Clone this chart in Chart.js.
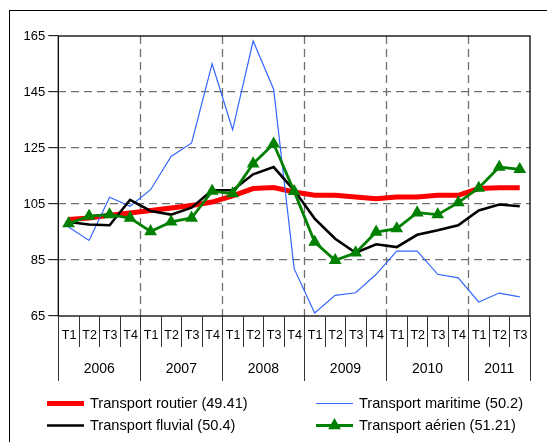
<!DOCTYPE html>
<html>
<head>
<meta charset="utf-8">
<script src="https://cdn.jsdelivr.net/npm/chart.js@4"></script>
<style>
body { margin: 0; background: #fff; }
canvas { display: block; }
</style>
</head>
<body>
<canvas id="transportChart" width="547" height="442"></canvas>
<script>
const quarters = ['T1', 'T2', 'T3', 'T4', 'T1', 'T2', 'T3', 'T4', 'T1', 'T2', 'T3', 'T4',
    'T1', 'T2', 'T3', 'T4', 'T1', 'T2', 'T3', 'T4', 'T1', 'T2', 'T3'];
const years = ['2006', '2007', '2008', '2009', '2010', '2011'];
const quartersPerYear = [4, 4, 4, 4, 4, 3];

const routier = [99.5, 100, 101, 101.8, 102.7, 103.6, 104.5, 105.7, 107.9, 110.5, 110.9, 109.3,
    108.1, 108.1, 107.5, 106.9, 107.5, 107.5, 108.1, 108.1, 110.5, 110.8, 110.8];
const maritime = [96.8, 92, 107.4, 104.2, 110.1, 122, 126.8, 155.1, 131.5, 163.2, 146, 81.9,
    66.1, 72.4, 73.3, 79.9, 88.2, 88.2, 79.9, 78.6, 70, 73.2, 71.8];
const fluvial = [98.6, 97.7, 97.4, 106.5, 102.5, 101.2, 103.7, 109.9, 109.9, 115.6, 118.2, 109.9,
    99.8, 92.6, 87.6, 90.6, 89.6, 94, 95.6, 97.4, 102.7, 104.8, 104.2];
const aerien = [98, 100.7, 101.2, 100, 95.2, 98.6, 100, 109.6, 108.7, 119.4, 126.5, 109.5,
    91.4, 84.9, 87.6, 95, 96.2, 101.9, 101.2, 105.5, 110.7, 118.2, 117.4];

const yMin = 65;
const yMax = 165;
const yStep = 20;

const FONT = '"Liberation Sans", Arial, sans-serif';

// legend layout: [dataset index, column, row]
const legendOrder = [[0, 0, 0], [1, 1, 0], [2, 0, 1], [3, 1, 1]];

const axisPlugin = {
    id: 'axisPlugin',
    beforeDatasetsDraw(chart) {
        const { ctx, chartArea: a, scales: { x } } = chart;
        const half = (x.getPixelForValue(1) - x.getPixelForValue(0)) / 2;
        ctx.save();

        // outer frame (cut by the picture edges)
        ctx.strokeStyle = '#000';
        ctx.lineWidth = 1;
        ctx.strokeRect(9.5, 10.5, 600, 600);

        // dashed year lines
        ctx.strokeStyle = '#707070';
        ctx.lineWidth = 1.3;
        ctx.setLineDash([8, 5]);
        let idx = 0;
        quartersPerYear.forEach((n, k) => {
            idx += n;
            if (k < years.length - 1) {
                const px = Math.round(x.getPixelForValue(idx) - half) + 0.5;
                ctx.beginPath();
                ctx.moveTo(px, a.top);
                ctx.lineTo(px, a.bottom);
                ctx.stroke();
            }
        });
        ctx.setLineDash([]);

        // plot box
        ctx.strokeStyle = '#000';
        ctx.lineWidth = 1.3;
        ctx.strokeRect(a.left, a.top, a.right - a.left, a.bottom - a.top);

        // category separators under the axis
        ctx.lineWidth = 1;
        ctx.strokeStyle = '#333';
        let yearStart = 0;
        const yearEnds = [];
        quartersPerYear.forEach((n) => { yearStart += n; yearEnds.push(yearStart); });
        for (let i = 0; i <= quarters.length; i++) {
            const px = Math.round(x.getPixelForValue(i) - half) + 0.5;
            const long = i === 0 || yearEnds.includes(i);
            ctx.beginPath();
            ctx.moveTo(px, a.bottom);
            ctx.lineTo(px, a.bottom + (long ? 65 : 31));
            ctx.stroke();
        }

        // quarter labels
        ctx.fillStyle = '#000';
        ctx.font = '12.5px ' + FONT;
        ctx.textAlign = 'center';
        ctx.textBaseline = 'middle';
        quarters.forEach((q, i) => {
            ctx.fillText(q, x.getPixelForValue(i) + 0.5, a.bottom + 19.5);
        });

        // year labels
        ctx.font = '14px ' + FONT;
        let start = 0;
        years.forEach((yr, k) => {
            const end = start + quartersPerYear[k];
            const left = x.getPixelForValue(start) - half;
            const right = x.getPixelForValue(end - 1) + half;
            ctx.fillText(yr, (left + right) / 2, a.bottom + 53.5);
            start = end;
        });
        ctx.restore();
    },
    afterDraw(chart) {
        const { ctx } = chart;
        const colX = [47, 316];
        const rowY = [403.5, 425.5];
        ctx.save();
        legendOrder.forEach(([di, col, row]) => {
            const ds = chart.data.datasets[di];
            const x0 = colX[col];
            const y0 = rowY[row];
            ctx.strokeStyle = ds.borderColor;
            ctx.lineWidth = ds.borderWidth;
            ctx.beginPath();
            ctx.moveTo(x0, y0);
            ctx.lineTo(x0 + 37, y0);
            ctx.stroke();
            if (ds.pointRadius > 0) {
                Chart.helpers.drawPoint(ctx, {
                    pointStyle: 'triangle', radius: ds.pointRadius, rotation: 0,
                    borderWidth: 1
                }, x0 + 18.5, y0);
                ctx.fillStyle = ds.pointBackgroundColor;
                ctx.fill();
            }
            ctx.fillStyle = '#000';
            ctx.font = '14.6px ' + FONT;
            ctx.textAlign = 'left';
            ctx.textBaseline = 'middle';
            ctx.fillText(ds.label, x0 + 43, y0);
        });
        ctx.restore();
    }
};

new Chart(document.getElementById('transportChart'), {
    type: 'line',
    data: {
        labels: quarters,
        datasets: [{
            label: 'Transport routier (49.41)',
            data: routier,
            borderColor: '#ff0000',
            borderWidth: 5,
            pointRadius: 0,
            order: 4
        }, {
            label: 'Transport maritime (50.2)',
            data: maritime,
            borderColor: '#3366ff',
            borderWidth: 1.2,
            pointRadius: 0,
            order: 3
        }, {
            label: 'Transport fluvial (50.4)',
            data: fluvial,
            borderColor: '#000000',
            borderWidth: 2.6,
            pointRadius: 0,
            order: 2
        }, {
            label: 'Transport aérien (51.21)',
            data: aerien,
            borderColor: '#008000',
            backgroundColor: '#008000',
            pointBackgroundColor: '#008000',
            pointBorderColor: '#008000',
            borderWidth: 2.8,
            pointStyle: 'triangle',
            pointRadius: 4.6,
            order: 1
        }]
    },
    options: {
        responsive: false,
        animation: false,
        devicePixelRatio: 1,
        layout: { padding: { left: 8.3, right: 17, top: 36, bottom: 126 } },
        plugins: {
            legend: { display: false },
            tooltip: { enabled: false }
        },
        elements: { line: { tension: 0 } },
        scales: {
            x: {
                display: false,
                offset: true
            },
            y: {
                min: yMin,
                max: yMax,
                afterFit: (scale) => { scale.width = 50; },
                ticks: {
                    stepSize: yStep,
                    color: '#000',
                    padding: 3,
                    font: { family: FONT, size: 13 }
                },
                grid: {
                    color: (c) => (c.tick && (c.tick.value === yMin || c.tick.value === yMax)) ? 'rgba(0,0,0,0)' : '#707070',
                    lineWidth: 1.3,
                    tickColor: '#000',
                    tickLength: 10,
                    tickWidth: 1
                },
                border: { display: false, dash: [8, 5] }
            }
        }
    },
    plugins: [axisPlugin]
});
</script>
</body>
</html>
